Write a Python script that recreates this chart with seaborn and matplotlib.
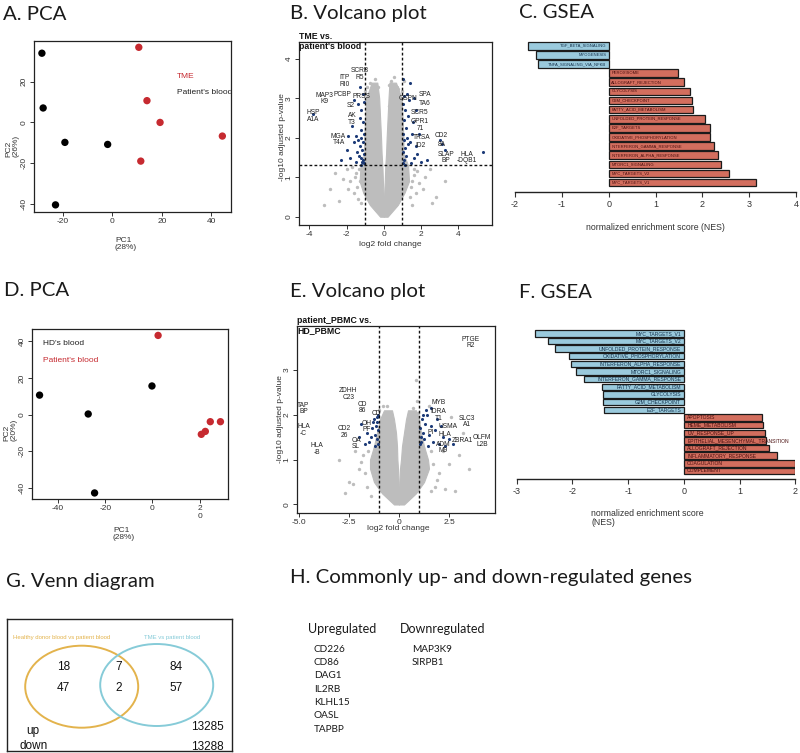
import numpy as np
import pandas as pd
import matplotlib
matplotlib.use("Agg")
import matplotlib.pyplot as plt
import seaborn as sns
from matplotlib.patches import Ellipse

W, H = 800, 753

# ---------------- data ----------------
# A. PCA (TME vs patient's blood)
pca_a_pc1 = [-28.5, -28.0, -19.2, -1.9, -23.0, 10.7, 14.0, 19.3, 44.5, 11.5]
pca_a_pc2 = [34.0, 7.1, -9.8, -10.8, -40.5, 36.9, 10.7, 0.0, -6.7, -19.0]
pca_a_group = ["Patient's blood"] * 5 + ["TME"] * 5

# D. PCA (HD's blood vs patient's blood)
pca_d_pc1 = [-47.8, -27.2, -0.2, -24.5, 2.4, 20.7, 22.4, 24.5, 28.8]
pca_d_pc2 = [10.7, 0.4, 15.7, -42.7, 43.3, -10.7, -9.1, -3.8, -3.8]
pca_d_group = ["HD's blood"] * 4 + ["Patient's blood"] * 5

# B. volcano: dense non-significant cloud (edges)
vb_cloud_y = [0.0, 0.3, 0.6, 0.9, 1.3, 1.6, 2.0, 2.5, 3.0, 3.4]
vb_left_out = [-0.2, -0.75, -1.1, -1.3, -1.25, -1.05, -1.05, -1.0, -0.95, -0.65]
vb_left_in = [0.0, 0.0, -0.02, -0.05, -0.08, -0.12, -0.15, -0.2, -0.25, -0.35]
vb_right_in = [0.0, 0.0, 0.02, 0.05, 0.08, 0.12, 0.15, 0.2, 0.25, 0.3]
vb_right_out = [0.2, 0.75, 1.1, 1.35, 1.3, 1.05, 1.05, 1.0, 0.95, 0.65]
vb_gray_x = [-2.4, -1.8, -1.5, -1.3, -1.6, -2.0, -1.1, 1.2, 1.5, 1.8, 2.1, 2.8, 1.4,
             -0.9, 0.7, -0.6, 0.4, -0.4, 0.3, -1.7, 1.6, 2.5, -2.6, -3.2, 3.3, 1.1, -1.2,
             -1.45, -1.55, -1.35, -1.9, -2.2, 1.45, 1.6, 1.7, 1.9, 2.2, -1.4, 1.5, -0.75,
             0.75, -0.5, 0.55, -0.3, 0.25, -1.15, 1.2, -1.0, 0.95, -2.9, 2.6]
vb_gray_y = [0.4, 0.9, 1.1, 0.9, 0.6, 1.2, 1.15, 1.1, 0.9, 1.15, 0.7, 0.5, 0.5,
             3.3, 3.3, 3.1, 3.45, 2.7, 2.8, 1.25, 1.2, 1.2, 1.1, 0.3, 0.9, 3.45, 0.35,
             0.75, 1.0, 1.2, 0.7, 0.95, 0.75, 1.05, 0.6, 0.85, 1.0, 0.45, 0.3, 3.4,
             3.25, 3.5, 3.55, 3.3, 3.35, 1.28, 1.25, 3.2, 3.2, 0.7, 0.35]
vb_sig_x = [-1.05, -1.1, -1.2, -1.05, -1.15, -1.3, -1.1, -1.25, -1.4, -1.05, -1.5, -1.2,
            -1.6, -1.1, -1.3, -1.7, -1.2, -1.05, -1.4, -1.6, -1.1, -1.3, -1.15, -1.35,
            -1.8, -2.0, -1.9, -2.3, -3.8, -1.5, -1.25, -1.45,
            1.05, 1.1, 1.2, 1.05, 1.15, 1.3, 1.1, 1.25, 1.4, 1.05, 1.5, 1.2, 1.1, 1.3,
            1.15, 1.05, 1.35, 1.1, 1.25, 1.6, 1.4, 1.05, 1.6, 1.8, 1.7, 2.0, 1.9, 2.3,
            3.0, 3.1, 3.3, 5.3, 1.45, 1.15, 1.55, 1.7]
vb_sig_y = [1.35, 1.45, 1.5, 1.6, 1.7, 1.8, 1.9, 2.0, 1.95, 2.1, 2.05, 2.2,
            1.9, 2.4, 2.5, 2.3, 2.7, 2.9, 2.85, 2.95, 3.1, 3.3, 1.4, 1.55,
            1.5, 1.7, 2.05, 1.45, 2.6, 1.4, 1.3, 1.65,
            1.35, 1.45, 1.55, 1.65, 1.75, 1.85, 1.95, 2.0, 1.9, 2.1, 2.1, 2.25, 2.45, 2.55,
            2.7, 2.85, 2.95, 3.05, 3.1, 3.0, 3.4, 3.5, 1.5, 1.6, 1.8, 1.4, 2.1, 1.45,
            1.95, 1.85, 1.7, 1.65, 1.35, 1.3, 2.4, 2.7]
vb_genes = ["HSP\nA1A", "MAP3\nK9", "ITP\nRI0", "SCRB\nR5", "PCBP", "PRSS", "S2", "AK\nT3",
            "MGA\nT4A", "GSPN", "SPA", "TA6", "SCR5", "GPR1\n71", "TRSA", "ID2", "CD2", "8A",
            "SLAP\nBP", "HLA\n-DQB1"]
vb_gene_x = [-3.77, -3.2, -2.1, -1.3, -2.2, -1.2, -1.75, -1.71,
             -2.43, 1.32, 2.21, 2.21, 1.94, 1.94, 2.03, 1.97, 3.1, 3.1, 3.34, 4.44]
vb_gene_y = [2.55, 3.0, 3.45, 3.62, 3.1, 3.05, 2.82, 2.47,
             1.96, 3.0, 3.1, 2.88, 2.65, 2.33, 2.0, 1.8, 2.05, 1.83, 1.5, 1.5]

# E. volcano
ve_cloud_y = [0.0, 0.25, 0.5, 0.8, 1.0, 1.3, 1.6, 1.9, 2.1]
ve_left_out = [-0.25, -0.85, -1.25, -1.45, -1.45, -1.25, -1.1, -0.95, -0.75]
ve_left_in = [0.0, 0.0, -0.02, -0.05, -0.08, -0.1, -0.15, -0.25, -0.35]
ve_right_in = [0.0, 0.0, 0.02, 0.05, 0.1, 0.15, 0.25, 0.35, 0.45]
ve_right_out = [0.25, 0.85, 1.25, 1.5, 1.45, 1.25, 1.1, 1.0, 0.85]
ve_gray_x = [-2.5, -2.0, -1.8, -2.2, -1.6, 2.0, 2.5, 3.0, 2.2, 1.8, 3.5, 0.83, 0.9, -0.8,
             1.5, 2.6, -3.0, 2.8, -1.4, 1.6, -2.7, 3.2, -1.7, -1.9, 1.7, 1.9, -1.55, 1.6,
             -0.6, 0.7, -2.3, 2.3, 1.2, -1.2, 0.95, -1.0]
ve_gray_y = [0.5, 0.8, 1.1, 1.2, 0.4, 0.7, 0.9, 1.1, 1.2, 0.4, 0.8, 2.78, 2.3, 2.2,
             2.2, 1.95, 1.0, 0.3, 0.2, 1.2, 0.25, 1.6, 0.7, 0.95, 0.9, 0.55, 1.2, 0.3,
             2.2, 2.15, 0.45, 0.35, 1.25, 1.25, 2.05, 2.1]
ve_sig_x = [-1.05, -1.1, -1.2, -1.05, -1.15, -1.3, -1.1, -1.25, -1.4, -1.5, -1.05, -1.2,
            -1.35, -1.6, -1.7, -1.1, -2.0, -1.9,
            1.05, 1.1, 1.2, 1.05, 1.3, 1.15, 1.4, 1.25, 1.5, 1.6, 1.45, 1.7, 1.8, 1.9,
            2.0, 2.2, 2.3, 2.5, 1.35, 1.6, 1.1, 2.1, 2.7, 1.2]
ve_sig_y = [1.35, 1.45, 1.55, 1.65, 1.75, 1.85, 1.95, 1.9, 1.5, 1.4, 2.0, 1.3,
            1.7, 1.6, 1.35, 1.85, 1.5, 1.8,
            1.35, 1.5, 1.6, 1.7, 1.8, 1.9, 2.0, 1.45, 1.55, 1.75, 1.3, 1.4, 1.65, 1.9,
            1.35, 1.5, 1.3, 1.45, 2.1, 2.15, 1.4, 1.75, 1.35, 2.0]
ve_genes = ["PTGE\nR2", "ZDHH\nC23", "TAP\nBP", "CD\n86", "CD", "HLA\n-C", "CD2\n26", "OH\nPF",
            "OA\nSL", "HLA\n-B", "MYB", "IDRA\nT1", "SLC3\nA1", "USMA", "PI", "HLA",
            "OLFM\nL2B", "ZBRA1", "ADM\nM9"]
ve_gene_x = [3.6, -2.53, -4.78, -1.82, -1.15, -4.78, -2.75, -1.6,
             -2.15, -4.1, 1.97, 1.97, 3.4, 2.45, 1.6, 2.3, 4.15, 3.15, 2.2]
ve_gene_y = [3.61, 2.47, 2.14, 2.16, 2.02, 1.66, 1.62, 1.74,
             1.36, 1.24, 2.27, 2.0, 1.85, 1.74, 1.6, 1.56, 1.41, 1.43, 1.27]

# C. GSEA (TME vs patient's blood)
gsea_c_sets = ["TGF_BETA_SIGNALING", "MYOGENESIS", "TNFA_SIGNALING_VIA_NFKB", "PEROXISOME",
               "ALLOGRAFT_REJECTION", "GLYCOLYSIS", "G2M_CHECKPOINT", "FATTY_ACID_METABOLISM",
               "UNFOLDED_PROTEIN_RESPONSE", "E2F_TARGETS", "OXIDATIVE_PHOSPHORYLATION",
               "INTERFERON_GAMMA_RESPONSE", "INTERFERON_ALPHA_RESPONSE", "MTORC1_SIGNALING",
               "MYC_TARGETS_V2", "MYC_TARGETS_V1"]
gsea_c_nes = [-1.72, -1.55, -1.5, 1.47, 1.6, 1.74, 1.79, 1.8, 2.05, 2.16, 2.16, 2.24,
              2.33, 2.4, 2.56, 3.14]

# F. GSEA (patient PBMC vs HD PBMC)
gsea_f_sets = ["MYC_TARGETS_V1", "MYC_TARGETS_V2", "UNFOLDED_PROTEIN_RESPONSE",
               "OXIDATIVE_PHOSPHORYLATION", "INTERFERON_ALPHA_RESPONSE", "MTORC1_SIGNALING",
               "INTERFERON_GAMMA_RESPONSE", "FATTY_ACID_METABOLISM", "GLYCOLYSIS",
               "G2M_CHECKPOINT", "E2F_TARGETS", "APOPTOSIS", "HEME_METABOLISM",
               "UV_RESPONSE_UP", "EPITHELIAL_MESENCHYMAL_TRANSITION", "ALLOGRAFT_REJECTION",
               "INFLAMMATORY_RESPONSE", "COAGULATION", "COMPLEMENT"]
gsea_f_nes = [-2.67, -2.43, -2.31, -2.07, -2.02, -1.93, -1.79, -1.47, -1.46, -1.46, -1.43,
              1.41, 1.42, 1.46, 1.47, 1.53, 1.68, 1.99, 2.0]

# G. Venn
venn_sets = ["Healthy donor blood vs patient blood", "TME vs patient blood"]
venn_up = [18, 7, 84]
venn_down = [47, 2, 57]
venn_rest = [13285, 13288]

# H. common genes
common_up = ["CD226", "CD86", "DAG1", "IL2RB", "KLHL15", "OASL", "TAPBP"]
common_down = ["MAP3K9", "SIRPB1"]

RED = "#c62a30"
BLUE_BAR = "#8fcfe8"
RED_BAR = "#e6604b"
SIG = "#1d3b78"
CLOUD = "#bdbdbd"
TXT = "#333333"


def px_axes(fig, l, t, r, b):
    return fig.add_axes([l / W, 1 - b / H, (r - l) / W, (b - t) / H])


def px_text(fig, x, y, s, **kw):
    return fig.text(x / W, 1 - y / H, s, **kw)


def r_style(ax):
    for sp in ax.spines.values():
        sp.set_linewidth(0.9)
        sp.set_color("#222222")
    ax.tick_params(direction="out", length=3, width=0.7, labelsize=6, colors=TXT, pad=1.5)
    for lab in ax.get_yticklabels():
        lab.set_rotation(90)
        lab.set_va("center")
    ax.set_xlabel("")
    ax.set_ylabel("")


def draw_pca(ax, pc1, pc2, group, palette, xlim, ylim, xticks, yticks, xticklabels=None):
    df = pd.DataFrame({"pc1": pc1, "pc2": pc2, "group": group})
    sns.scatterplot(data=df, x="pc1", y="pc2", hue="group", palette=palette, s=28,
                    linewidth=0, legend=False, ax=ax)
    ax.set_xlim(xlim)
    ax.set_ylim(ylim)
    ax.set_xticks(xticks)
    if xticklabels is not None:
        ax.set_xticklabels(xticklabels)
    ax.set_yticks(yticks)
    r_style(ax)


def draw_volcano(ax, cy, lo, li, ri, ro, gx, gy, sx, sy, genes, gxs, gys,
                 xlim, ylim, xticks, xticklabels, yticks, hline):
    ax.fill_betweenx(cy, lo, li, color=CLOUD, lw=0.8, edgecolor=CLOUD)
    ax.fill_betweenx(cy, ri, ro, color=CLOUD, lw=0.8, edgecolor=CLOUD)
    sns.scatterplot(x=gx, y=gy, color=CLOUD, s=6, linewidth=0, ax=ax)
    sns.scatterplot(x=sx, y=sy, color=SIG, s=5, linewidth=0, ax=ax)
    for v in (-1, 1):
        ax.axvline(v, color="#111111", lw=1.0, ls=(0, (2, 1.6)))
    if hline is not None:
        ax.axhline(hline, color="#111111", lw=1.0, ls=(0, (2, 1.6)))
    for g, x, y in zip(genes, gxs, gys):
        ax.text(x, y, g, fontsize=4.8, ha="center", va="center", color="#222222",
                linespacing=0.95)
    ax.set_xlim(xlim)
    ax.set_ylim(ylim)
    ax.set_xticks(xticks)
    ax.set_xticklabels(xticklabels)
    ax.set_yticks(yticks)
    r_style(ax)


def draw_gsea(ax, sets, nes, xlim, ylim, fs):
    df = pd.DataFrame({"set": sets, "nes": nes})
    df["dir"] = np.where(df["nes"] < 0, "down", "up")
    sns.barplot(data=df, x="nes", y="set", hue="dir", orient="h", dodge=False, legend=False,
                palette={"down": BLUE_BAR, "up": RED_BAR}, width=0.84, errorbar=None,
                edgecolor="#1b1b1b", linewidth=0.9, ax=ax)
    for i, (s, v) in enumerate(zip(sets, nes)):
        if v < 0:
            ax.text(-0.05, i, s, ha="right", va="center", fontsize=fs, color="#14304a")
        else:
            ax.text(0.06, i, s, ha="left", va="center", fontsize=fs, color="#4a0f0f")
    ax.set_xlim(xlim)
    ax.set_ylim(ylim)
    ax.set_xticks(np.arange(xlim[0], xlim[1] + 1))
    ax.set_yticks([])
    for side in ("left", "top", "right"):
        ax.spines[side].set_visible(False)
    ax.spines["bottom"].set_linewidth(1.0)
    ax.spines["bottom"].set_color("#222222")
    ax.tick_params(axis="x", direction="out", length=3.5, width=0.8, labelsize=6.5,
                   colors=TXT, pad=2)
    ax.set_xlabel("")
    ax.set_ylabel("")


sns.set_theme(style="ticks")
plt.rcParams["font.family"] = ["Liberation Sans", "DejaVu Sans"]
plt.rcParams["axes.unicode_minus"] = False
plt.rcParams["axes.facecolor"] = "white"

fig = plt.figure(figsize=(W / 100, H / 100), dpi=100)
fig.patch.set_facecolor("white")

TITLE = dict(fontsize=14.7, family=["Lato", "DejaVu Sans"], va="center", ha="left",
             color="#1a1a1a")
px_text(fig, 3, 14, "A. PCA", **TITLE)
px_text(fig, 290, 13, "B. Volcano plot", **TITLE)
px_text(fig, 519, 13, "C. GSEA", **TITLE)
px_text(fig, 4, 290, "D. PCA", **TITLE)
px_text(fig, 290, 292, "E. Volcano plot", **TITLE)
px_text(fig, 519, 292, "F. GSEA", **TITLE)
px_text(fig, 6, 582, "G. Venn diagram", **TITLE)
px_text(fig, 290, 578, "H. Commonly up- and down-regulated genes", **TITLE)

# A
ax_a = px_axes(fig, 34, 41, 231, 212)
draw_pca(ax_a, pca_a_pc1, pca_a_pc2, pca_a_group, {"Patient's blood": "black", "TME": RED},
         (-31.7, 48), (-44, 40), [-20, 0, 20, 40], [-40, -20, 0, 20])
px_text(fig, 177, 77, "TME", fontsize=6, color=RED, va="center")
px_text(fig, 177, 92, "Patient's blood", fontsize=6, color="#222222", va="center")
px_text(fig, 115, 244, "PC1\n(28%)", fontsize=6, color=TXT, va="center", ha="left",
        linespacing=1.0)
px_text(fig, 12, 157, "PC2\n(26%)", fontsize=6, color=TXT, va="bottom", ha="center",
        rotation=90, multialignment="left", linespacing=1.0)

# D
ax_d = px_axes(fig, 32, 329, 228, 499)
draw_pca(ax_d, pca_d_pc1, pca_d_pc2, pca_d_group, {"HD's blood": "black", "Patient's blood": RED},
         (-51, 32), (-46, 46.8), [-40, -20, 0, 20], [-40, -20, 0, 20, 40],
         xticklabels=["-40", "-20", "0", "2\n0"])
px_text(fig, 43, 343, "HD's blood", fontsize=6, color="#222222", va="center")
px_text(fig, 43, 361, "Patient's blood", fontsize=6, color=RED, va="center")
px_text(fig, 113, 534, "PC1\n(28%)", fontsize=6, color=TXT, va="center", ha="left",
        linespacing=1.0)
px_text(fig, 10, 441, "PC2\n(20%)", fontsize=6, color=TXT, va="bottom", ha="center",
        rotation=90, multialignment="left", linespacing=1.0)

# B
ax_b = px_axes(fig, 299, 42, 492, 225)
draw_volcano(ax_b, vb_cloud_y, vb_left_out, vb_left_in, vb_right_in, vb_right_out,
             vb_gray_x, vb_gray_y, vb_sig_x, vb_sig_y, vb_genes, vb_gene_x, vb_gene_y,
             (-4.55, 5.8), (-0.21, 4.43), [-4, -2, 0, 2, 4], ["-4", "-2", "0", "2", "4"],
             [0, 1, 2, 3, 4], 1.3)
px_text(fig, 299, 32, "TME vs.\npatient's blood", fontsize=6.3, fontweight="bold",
        va="top", ha="left", color="#111111", linespacing=1.15)
px_text(fig, 390, 245, "log2 fold change", fontsize=6, color=TXT, ha="center", va="center")
px_text(fig, 282, 137, "-log10 adjusted p-value", fontsize=6, color=TXT, ha="center",
        va="center", rotation=90)

# E
ax_e = px_axes(fig, 297, 326, 495, 513)
draw_volcano(ax_e, ve_cloud_y, ve_left_out, ve_left_in, ve_right_in, ve_right_out,
             ve_gray_x, ve_gray_y, ve_sig_x, ve_sig_y, ve_genes, ve_gene_x, ve_gene_y,
             (-5.1, 4.8), (-0.19, 3.98), [-5, -2.5, 0, 2.5], ["-5.0", "-2.5", "0", "2.5"],
             [0, 1, 2, 3], None)
px_text(fig, 297, 316, "patient_PBMC vs.\nHD_PBMC", fontsize=6.3, fontweight="bold",
        va="top", ha="left", color="#111111", linespacing=1.15)
px_text(fig, 398, 529, "log2 fold change", fontsize=6, color=TXT, ha="center", va="center")
px_text(fig, 281, 419, "-log10 adjusted p-value", fontsize=6, color=TXT, ha="center",
        va="center", rotation=90)

# C
ax_c = px_axes(fig, 515, 36, 796, 192)
draw_gsea(ax_c, gsea_c_sets, gsea_c_nes, (-2, 4), (16.03, -1.07), 3.0)
px_text(fig, 655, 227, "normalized enrichment score (NES)", fontsize=6.3, color=TXT,
        ha="center", va="center")

# F
ax_f = px_axes(fig, 516.7, 325, 795.3, 479)
draw_gsea(ax_f, gsea_f_sets, gsea_f_nes, (-3, 2), (19.05, -1.09), 3.6)
px_text(fig, 591, 518, "normalized enrichment score\n(NES)", fontsize=6.3, color=TXT,
        ha="left", va="center", linespacing=1.1)

# G. Venn
ax_g = px_axes(fig, 7, 619, 232, 751)
ax_g.set_xlim(0, 225)
ax_g.set_ylim(132, 0)
ax_g.set_xticks([])
ax_g.set_yticks([])
for sp in ax_g.spines.values():
    sp.set_linewidth(1.0)
    sp.set_color("#222222")
venn_colors = ["#e3b34c", "#86cbd8"]
venn_centers = [(74.7, 67.7), (149.7, 66.0)]
for (cx, cy), col in zip(venn_centers, venn_colors):
    ax_g.add_patch(Ellipse((cx, cy), 113, 82, fill=False, edgecolor=col, lw=1.4))
ax_g.text(6, 19, venn_sets[0], fontsize=4.3, color=venn_colors[0], va="center", ha="left")
ax_g.text(137, 19, venn_sets[1], fontsize=4.3, color=venn_colors[1], va="center", ha="left")
for x, up, dn in zip([56.3, 112, 168.7], venn_up, venn_down):
    ax_g.text(x, 47.7, str(up), fontsize=8.5, ha="center", va="center", color="#111111")
    ax_g.text(x, 69.3, str(dn), fontsize=8.5, ha="center", va="center", color="#111111")
ax_g.text(26.3, 111.7, "up", fontsize=8.5, ha="center", va="center", color="#111111")
ax_g.text(26.3, 127, "down", fontsize=8.5, ha="center", va="center", color="#111111")
ax_g.text(217, 108.3, str(venn_rest[0]), fontsize=8.5, ha="right", va="center", color="#111111")
ax_g.text(217, 127.7, str(venn_rest[1]), fontsize=8.5, ha="right", va="center", color="#111111")

# H. gene lists
LATO = ["Lato", "DejaVu Sans"]
px_text(fig, 308, 629, "Upregulated", fontsize=9, family=LATO, va="center", color="#1a1a1a")
px_text(fig, 400, 629, "Downregulated", fontsize=9, family=LATO, va="center", color="#1a1a1a")
for i, g in enumerate(common_up):
    px_text(fig, 314, 649.3 + 13.3 * i, g, fontsize=7.2, family=LATO, va="center",
            color="#1a1a1a")
for i, g in enumerate(common_down):
    px_text(fig, 412, 649.3 + 13.3 * i, g, fontsize=7.2, family=LATO, va="center",
            color="#1a1a1a")

fig.savefig("out.png", dpi=100, facecolor="white")
